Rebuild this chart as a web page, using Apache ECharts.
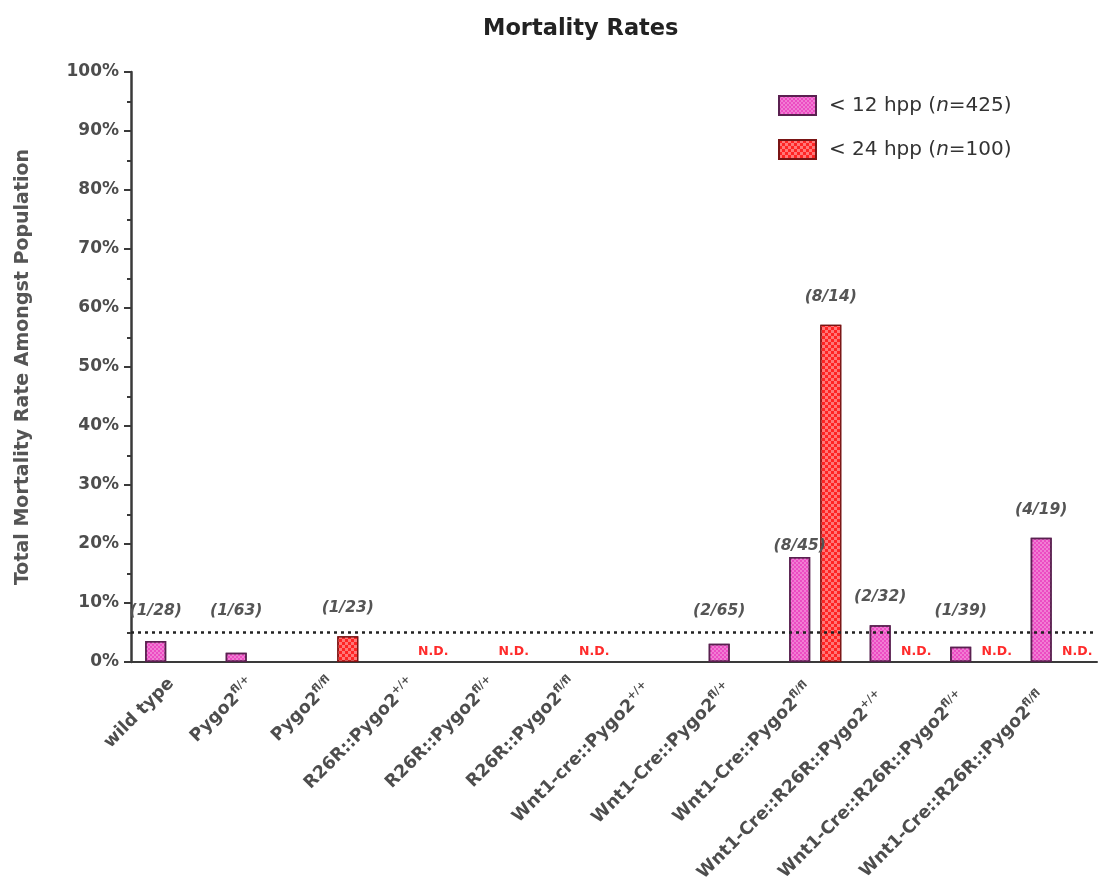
<!DOCTYPE html>
<html>
<head>
<meta charset="utf-8">
<title>Mortality Rates</title>
<script src="https://cdn.jsdelivr.net/npm/echarts@6/dist/echarts.min.js"></script>
<style>
  html, body { margin: 0; padding: 0; background: #ffffff; }
  #chart { width: 1101px; height: 888px; }
</style>
</head>
<body>
<div id="chart"></div>
<script>
// Genotypes; the part after "^" is drawn as a superscript allele.
const categories = [
  'wild type', 'Pygo2^fl/+', 'Pygo2^fl/fl',
  'R26R::Pygo2^+/+', 'R26R::Pygo2^fl/+', 'R26R::Pygo2^fl/fl',
  'Wnt1-cre::Pygo2^+/+', 'Wnt1-Cre::Pygo2^fl/+', 'Wnt1-Cre::Pygo2^fl/fl',
  'Wnt1-Cre::R26R::Pygo2^+/+', 'Wnt1-Cre::R26R::Pygo2^fl/+', 'Wnt1-Cre::R26R::Pygo2^fl/fl'
];
const seriesNames = ['< 12 hpp (n=425)', '< 24 hpp (n=100)'];

// Deaths / animals per genotype, before 12 hours post partum
const deaths12 = [1, 1, null, null, null, null, null, 2, 8, 2, 1, 4];
const totals12 = [28, 63, null, null, null, null, null, 65, 45, 32, 39, 19];

// Deaths / animals per genotype, before 24 hours post partum
const deaths24 = [null, null, 1, null, null, null, null, null, 8, null, null, null];
const totals24 = [null, null, 23, null, null, null, null, null, 14, null, null, null];
// Genotypes whose 24 hpp rate was not determined
const notDetermined24 = [false, false, false, true, true, true, false, false, false, true, true, true];

const referenceLine = 5;             // dotted line, %
const yMin = 0, yMax = 100, yStep = 10;

// ---- layout ----
const H = 888;
const GRID = { left: 131, right: 4, top: 72, bottom: 226 };
const PX_PER_PCT = (H - GRID.top - GRID.bottom) / (yMax - yMin);
const LABEL_FLOOR_PCT = 8.6;         // count labels never sit lower than this
const LABEL_LIFT = 28;               // bar top to label centre, px
const LABEL_HALF = 9;                // half the label line height
const FONT = '"DejaVu Sans", "Liberation Sans", sans-serif';
const GREY = '#4d4d4d';

const pct = (d, t) => (d == null || t == null) ? null : 100 * d / t;
const rate12 = deaths12.map((d, i) => pct(d, totals12[i]));
const rate24 = deaths24.map((d, i) => pct(d, totals24[i]));

// gap between a bar's top and the bottom of its "(d/n)" label
function labelDistance(v, crowded) {
  if (crowded) return 2;
  const floorLift = (LABEL_FLOOR_PCT - v) * PX_PER_PCT;
  return Math.max(LABEL_LIFT, floorLift) - LABEL_HALF;
}

const fracLabel = {
  show: true,
  position: 'top',
  fontFamily: FONT,
  fontSize: 15.5,
  fontWeight: 'bold',
  fontStyle: 'italic',
  color: '#555555',
  lineHeight: 18
};

const data12 = rate12.map((v, i) => {
  if (v == null) return null;
  const crowded = rate24[i] != null && rate24[i] > v;
  return {
    value: v,
    label: Object.assign({}, fracLabel, {
      distance: labelDistance(v, crowded),
      formatter: '(' + deaths12[i] + '/' + totals12[i] + ')'
    })
  };
});

const data24 = rate24.map((v, i) => {
  if (notDetermined24[i]) {
    return {
      value: 0,
      itemStyle: { color: 'rgba(0,0,0,0)', borderWidth: 0 },
      label: {
        show: true, position: 'top', distance: 3, offset: [5, 0],
        formatter: 'N.D.', fontFamily: FONT, fontSize: 12.5, fontWeight: 'bold',
        fontStyle: 'normal', color: '#ff2b2b', lineHeight: 14
      }
    };
  }
  if (v == null) return null;
  return {
    value: v,
    label: Object.assign({}, fracLabel, {
      distance: labelDistance(v, false),
      formatter: '(' + deaths24[i] + '/' + totals24[i] + ')'
    })
  };
});

// Long genotype names sit a little further out along their slant.
function categoryLabel(s) {
  const k = s.indexOf('^');
  const base = k < 0 ? s : s.slice(0, k);
  const pad = Math.max(0, base.length - 11) * 2;
  if (k < 0) return '{b|' + s + '}';
  const tail = pad > 0 ? '{gap' + Math.round(pad) + '|}' : '';
  return '{b|' + base + '}{s|' + s.slice(k + 1) + '}' + tail;
}

const labelRich = {
  b: { fontFamily: FONT, fontSize: 17.5, fontWeight: 'bold', color: GREY, lineHeight: 22 },
  s: { fontFamily: FONT, fontSize: 11, fontWeight: 'bold', color: GREY, lineHeight: 22, verticalAlign: 'top' }
};
categories.forEach(s => {
  const k = s.indexOf('^');
  const base = k < 0 ? s : s.slice(0, k);
  const pad = Math.round(Math.max(0, base.length - 11) * 2);
  if (pad > 0) labelRich['gap' + pad] = { width: pad, lineHeight: 22 };
});

const chart = echarts.init(document.getElementById('chart'), null, { renderer: 'canvas' });

chart.setOption({
  animation: false,
  backgroundColor: '#ffffff',
  title: {
    text: 'Mortality Rates',
    left: 478,
    top: 13,
    textStyle: { fontFamily: FONT, fontSize: 22.5, fontWeight: 'bold', color: '#222222' }
  },
  legend: {
    orient: 'vertical',
    left: 773,
    top: 90,
    icon: 'rect',
    itemWidth: 37,
    itemHeight: 19,
    itemGap: 23,
    selectedMode: false,
    data: seriesNames,
    formatter: name => name.replace('(n=', '({i|n}='),
    textStyle: {
      fontFamily: FONT,
      fontSize: 20,
      color: '#333333',
      padding: [0, 0, 0, 8],
      rich: {
        i: { fontFamily: FONT, fontSize: 20, fontStyle: 'italic', color: '#333333' }
      }
    }
  },
  grid: {
    left: GRID.left, right: GRID.right, top: GRID.top, bottom: GRID.bottom,
    containLabel: false
  },
  xAxis: {
    type: 'category',
    data: categories,
    axisLine: { lineStyle: { color: '#3a3a3a', width: 2 } },
    axisTick: { alignWithLabel: true, length: 6, lineStyle: { color: '#3a3a3a', width: 2 } },
    axisLabel: {
      interval: 0,
      rotate: 45,
      margin: 19,
      formatter: categoryLabel,
      rich: labelRich
    }
  },
  yAxis: {
    type: 'value',
    min: yMin,
    max: yMax,
    interval: yStep,
    name: 'Total Mortality Rate Amongst Population',
    nameLocation: 'middle',
    nameGap: 98,
    nameTextStyle: { fontFamily: FONT, fontSize: 19, fontWeight: 'bold', color: '#555555' },
    axisLine: { show: true, lineStyle: { color: '#3a3a3a', width: 2.5 } },
    axisTick: { show: true, length: 7, lineStyle: { color: '#3a3a3a', width: 2 } },
    minorTick: { show: true, splitNumber: 2, length: 4, lineStyle: { color: '#3a3a3a', width: 2 } },
    splitLine: { show: false },
    axisLabel: {
      margin: 12,
      formatter: '{value}%',
      fontFamily: FONT,
      fontSize: 17,
      fontWeight: 'bold',
      color: GREY
    }
  },
  series: [
    {
      name: seriesNames[0],
      type: 'bar',
      barWidth: 21,
      barGap: '48%',
      data: data12,
      itemStyle: {
        color: '#ec4cc3',
        borderColor: '#5a2050',
        borderWidth: 1.5,
        decal: {
          symbol: 'rect',
          symbolSize: 1,
          dashArrayX: [[2, 2], [0, 2, 2, 0]],
          dashArrayY: [2, 0],
          color: 'rgba(255,255,255,0.28)'
        }
      },
      label: fracLabel,
      markLine: {
        silent: true,
        symbol: 'none',
        label: { show: false },
        lineStyle: { type: [3, 4], color: '#222222', width: 2.5 },
        data: [{ yAxis: referenceLine }]
      }
    },
    {
      name: seriesNames[1],
      type: 'bar',
      barWidth: 21,
      data: data24,
      itemStyle: {
        color: '#ff2424',
        borderColor: '#7a1414',
        borderWidth: 1.2,
        decal: {
          symbol: 'rect',
          symbolSize: 1,
          dashArrayX: [[3, 3], [0, 3, 3, 0]],
          dashArrayY: [3, 0],
          color: 'rgba(255,190,190,0.55)'
        }
      },
      label: fracLabel
    }
  ]
});
</script>
</body>
</html>
